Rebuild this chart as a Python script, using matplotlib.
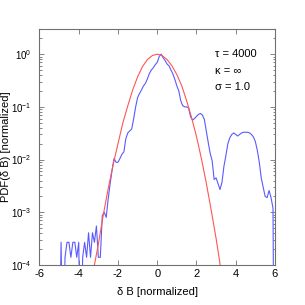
import numpy as np
import matplotlib
matplotlib.use("Agg")
import matplotlib.pyplot as plt
from matplotlib.ticker import LogLocator, FixedLocator

plt.rcParams['font.family'] = ['Liberation Sans', 'DejaVu Sans']
plt.rcParams['mathtext.fontset'] = 'custom'
plt.rcParams['mathtext.rm'] = 'Liberation Sans'
plt.rcParams['mathtext.it'] = 'Liberation Sans'
plt.rcParams['mathtext.default'] = 'regular'
plt.rcParams['axes.unicode_minus'] = False

db_x = [-5.0, -4.9, -4.8, -4.7, -4.6, -4.5, -4.4, -4.3, -4.2, -4.1, -4.0,
        -3.9, -3.8, -3.7, -3.6, -3.5, -3.4, -3.3, -3.2, -3.1, -3.0, -2.9,
        -2.8, -2.7, -2.6, -2.5, -2.4, -2.3, -2.2, -2.1, -2.0, -1.9, -1.8,
        -1.7, -1.6, -1.5, -1.4, -1.3, -1.2, -1.1, -1.0, -0.9, -0.8, -0.7,
        -0.6, -0.5, -0.4, -0.3, -0.2, -0.1, 0.0, 0.1, 0.2, 0.3, 0.4, 0.5,
        0.6, 0.7, 0.8, 0.9, 1.0, 1.1, 1.2, 1.3, 1.4, 1.5, 1.6, 1.7, 1.8,
        1.9, 2.0, 2.1, 2.2, 2.3, 2.4, 2.5, 2.6, 2.7, 2.8, 2.9, 3.0, 3.1,
        3.2, 3.3, 3.4, 3.5, 3.6, 3.7, 3.8, 3.9, 4.0, 4.1, 4.2, 4.3, 4.4,
        4.5, 4.6, 4.7, 4.8, 4.9, 5.0, 5.1, 5.2, 5.3, 5.4, 5.5, 5.6, 5.7,
        5.8, 5.9, 5.95]
pdf_measured = [1e-6, 2.7e-4, 1e-6, 1.4e-4, 2.7e-4, 2.7e-4, 1.4e-4, 2.7e-4,
                2.7e-4, 1.4e-4, 2.7e-4, 1e-6, 1.4e-4, 2.7e-4, 1.4e-4, 4.1e-4,
                1.4e-4, 4.1e-4, 2.7e-4, 5.5e-4, 1.4e-4, 1.4e-4,
                8.7e-4, 1.0e-3, 8.0e-4, 1.8e-3, 3.5e-3, 6.3e-3, 1.05e-2,
                8.9e-3, 8.9e-3, 1.05e-2, 1.26e-2, 1.4e-2, 2.5e-2, 3.2e-2,
                3.5e-2, 3.8e-2, 6.0e-2, 0.10, 0.15, 0.18, 0.21, 0.25, 0.28,
                0.34, 0.43, 0.50, 0.55, 0.63, 0.70, 0.90, 1.0, 0.85, 0.76,
                0.65, 0.60, 0.50, 0.42, 0.33, 0.25, 0.20, 0.13, 0.105, 0.10,
                0.10, 0.095, 0.065, 0.056, 0.060, 0.066, 0.072, 0.075, 0.070,
                0.058, 0.035, 0.021, 0.013, 0.0095, 0.0042, 0.0045, 0.0035,
                0.0027, 0.0037, 0.0075, 0.012, 0.020, 0.026, 0.030, 0.032,
                0.030, 0.028, 0.030, 0.032, 0.033, 0.033, 0.033, 0.032, 0.030,
                0.027, 0.022, 0.015, 0.009, 0.0045, 0.0030, 0.0020, 0.0019,
                0.0026, 0.0019, 0.0012, 1e-6]

# gaussian reference (red)
gauss_x = [-3.25, -3.0, -2.75, -2.5, -2.25, -2.0, -1.75, -1.5, -1.25, -1.0,
           -0.75, -0.5, -0.25, 0.0, 0.25, 0.5, 0.75, 1.0, 1.25, 1.5, 1.75,
           2.0, 2.25, 2.5, 2.75, 3.0, 3.25]
pdf_gauss = [8e-5, 2.5e-4, 8.9e-4, 2.8e-3, 7.9e-3, 2.0e-2, 5.0e-2, 0.105,
             0.21, 0.37, 0.58, 0.79, 0.94, 1.0, 0.94, 0.79, 0.60, 0.41,
             0.25, 0.13, 0.063, 0.0275, 0.0105, 3.6e-3, 1.1e-3, 3.2e-4, 8e-5]

labels = [r"τ = 4000", r"κ = ∞", r"σ = 1.0"]
x_ticks = [-6, -4, -2, 0, 2, 4, 6]

fig = plt.figure(figsize=(3.05, 3.05), dpi=100)
ax = fig.add_axes([0.1295, 0.131, 0.772, 0.774])

ax.semilogy(db_x, pdf_measured, color='#5a5aff', linewidth=0.8)
ax.semilogy(gauss_x, pdf_gauss, color='#ff5555', linewidth=0.8)

ax.set_xlim(-6, 6)
ax.set_ylim(1e-4, 3)
ax.xaxis.set_major_locator(FixedLocator(x_ticks))
ax.yaxis.set_major_locator(LogLocator(base=10, numticks=10))
ax.yaxis.set_minor_locator(LogLocator(base=10, subs=np.arange(2, 10), numticks=10))

for s in ax.spines.values():
    s.set_color('#707070')
    s.set_linewidth(0.8)
ax.tick_params(which='both', direction='in', top=True, right=True,
               color='#707070', width=0.6)
ax.tick_params(which='major', length=3.5)
ax.tick_params(which='minor', length=1.8)
ax.tick_params(axis='x', pad=3, labelsize=8)
ax.tick_params(axis='y', pad=5.5, labelsize=7)

ax.set_xlabel("δ B [normalized]", fontsize=8)
ax.set_ylabel("PDF(δ B) [normalized]", fontsize=8)
ax.xaxis.set_label_coords(0.5, -0.093)
ax.yaxis.set_label_coords(-0.12, 0.5)

for i, t in enumerate(labels):
    ax.text(0.745, 0.892 - i * 0.069, t, transform=ax.transAxes,
            fontsize=8, va='center', ha='left')

fig.savefig("out.png", dpi=100)
